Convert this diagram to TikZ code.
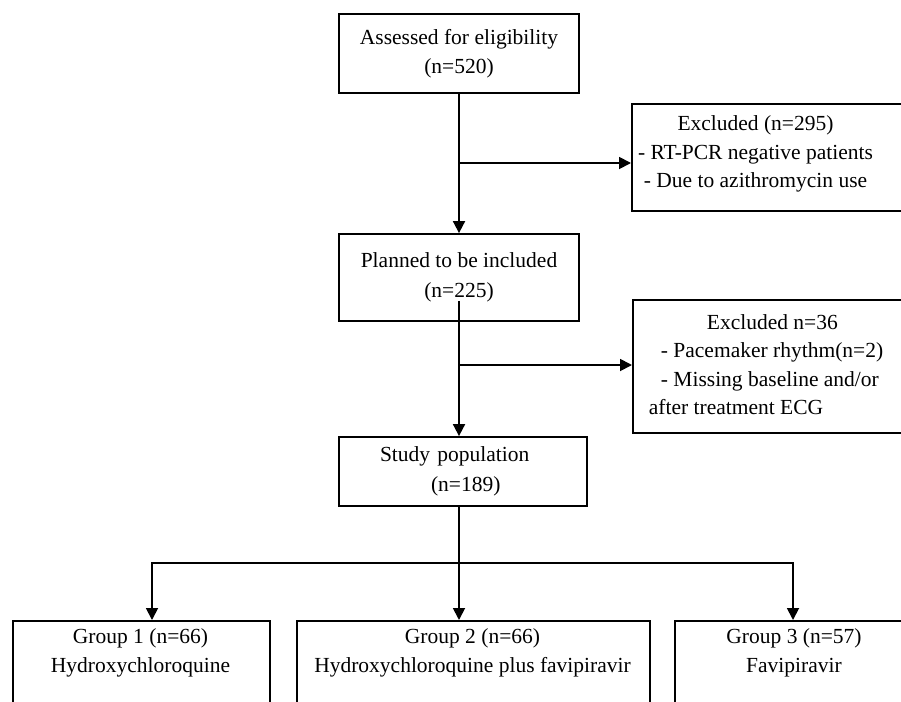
\documentclass[tikz,border=0pt]{standalone}
\usepackage{fontspec}
\setmainfont{Liberation Serif}
\usetikzlibrary{arrows.meta,calc,positioning}

\begin{document}
\begin{tikzpicture}[x=1pt, y=-1pt, line width=1.8pt,
    box/.style={draw, line width=1.8pt, inner sep=0pt, align=center,
        font=\fontsize{21.5pt}{29.5pt}\selectfont},
    txt/.style={inner sep=0pt, font=\fontsize{21.5pt}{28.5pt}\selectfont},
    arr/.style={-{Triangle[length=12pt,width=12pt]}}]
    \clip (0,0) rectangle (901,701);
    %% Main column
    \node[box, minimum width=240pt, minimum height=79pt] (elig) at (459,53.5) {Assessed for eligibility\\(n=520)};
    \node[box, minimum width=240pt, minimum height=87pt] (plan) at (459,277.5) {Planned to be included\\(n=225)};
    \node[box, minimum width=248pt, minimum height=69pt, text width=226pt, inner xsep=11pt, align=left] (study) at (463,471.5) {\hspace*{30pt}Study population\\\hspace*{81pt}(n=189)};
    %% Excluded (boxes run off the right edge)
    \node[box, anchor=north west, minimum width=300pt, minimum height=107pt] (exA) at (631,103) {};
    \node[txt, align=center] (exAtxt) at (755.5,154) {Excluded (n=295)\\- RT-PCR negative patients\\- Due to azithromycin use};
    \node[box, anchor=north west, minimum width=300pt, minimum height=133pt] (exB) at (632,299) {};
    \node[txt, anchor=west, align=left] (exBtxt) at (648,364.5) {\hspace*{58pt}Excluded n=36\\\hspace*{12pt}- Pacemaker rhythm(n=2)\\\hspace*{12pt}- Missing baseline and/or\\after treatment ECG};
    %% Groups (cut off at the bottom)
    \node[box, anchor=north west, minimum width=257pt, minimum height=120pt] (grpA) at (12,620) {};
    \node[box, anchor=north west, minimum width=353pt, minimum height=120pt] (grpB) at (296,620) {};
    \node[box, anchor=north west, minimum width=270pt, minimum height=120pt] (grpC) at (674,620) {};
    \node[txt, align=center] (grpAtxt) at (140.5,653) {Group 1 (n=66)\\Hydroxychloroquine};
    \node[txt, align=center] (grpBtxt) at (472.5,653) {Group 2 (n=66)\\Hydroxychloroquine plus favipiravir};
    \node[txt, align=center] (grpCtxt) at (794,653) {Group 3 (n=57)\\Favipiravir};
    %% Connectors
    \coordinate (brA) at (459,163);
    \coordinate (brB) at (459,365);
    \coordinate (hub) at (459,563);
    \coordinate (hubA) at (152,563);
    \coordinate (hubC) at (793,563);
    \draw[arr] (elig.south) -- (plan.north);
    \draw[arr] (brA) -- (brA -| exA.west);
    \draw[arr] ($(plan.south)+(0,-21)$) -- (plan.south |- study.north);
    \draw[arr] (brB) -- (brB -| exB.west);
    \draw[arr] (study.south -| hub) -- (hub |- grpB.north);
    \draw[arr] (hub) -- (hubA) -- (hubA |- grpA.north);
    \draw[arr] (hub) -- (hubC) -- (hubC |- grpC.north);
\end{tikzpicture}
\end{document}
